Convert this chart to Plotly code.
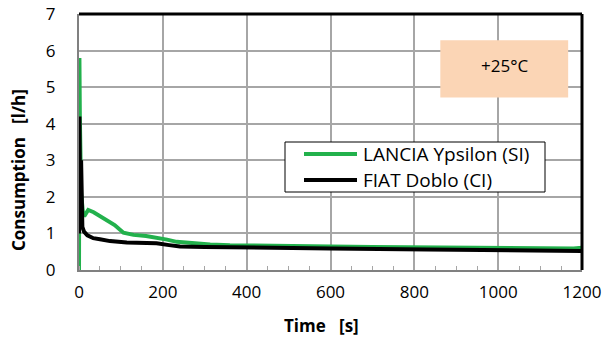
import plotly.graph_objects as go

# Data
time_lancia = [0, 1, 2, 5, 8, 10, 14, 22, 35, 50, 70, 85, 106, 130, 160, 185, 210, 233, 260, 313, 360, 432, 500, 600, 700, 800, 900, 1000, 1100, 1180, 1200]
cons_lancia = [0, 5.8, 4.2, 2.1, 1.55, 1.5, 1.5, 1.64, 1.58, 1.48, 1.35, 1.23, 1.02, 0.96, 0.93, 0.89, 0.83, 0.77, 0.74, 0.70, 0.68, 0.66, 0.65, 0.64, 0.63, 0.62, 0.61, 0.60, 0.59, 0.59, 0.61]

time_fiat = [0, 1, 3, 5, 8, 12, 20, 34, 50, 74, 114, 150, 185, 215, 241, 300, 432, 600, 830, 1000, 1200]
cons_fiat = [1.0, 4.2, 1.3, 3.0, 1.18, 1.05, 0.95, 0.87, 0.84, 0.79, 0.75, 0.74, 0.73, 0.68, 0.64, 0.63, 0.62, 0.59, 0.56, 0.54, 0.52]

series_names = ["LANCIA Ypsilon (SI)", "FIAT Doblo (CI)"]
series_colors = ["#22B14C", "#000000"]
x_ticks = [0, 200, 400, 600, 800, 1000, 1200]
y_ticks = [0, 1, 2, 3, 4, 5, 6, 7]
temp_label = "+25°C"
x_title = "Time\u00a0\u00a0\u00a0[s]"
y_title = "Consumption\u00a0\u00a0\u00a0[l/h]"

FONT = "Open Sans"
W, H = 605, 344
ML, MR, MT, MB = 79, 23, 14, 74
PW, PH = W - ML - MR, H - MT - MB


def px_x(p):
    return (p - ML) / PW


def px_y(p):
    return (H - MB - p) / PH


fig = go.Figure()
for name, color, xs, ys in [(series_names[0], series_colors[0], time_lancia, cons_lancia),
                            (series_names[1], series_colors[1], time_fiat, cons_fiat)]:
    fig.add_trace(go.Scatter(x=xs, y=ys, mode="lines", name=name,
                             line=dict(color=color, width=4), showlegend=False))

fig.update_layout(
    width=W, height=H,
    margin=dict(l=ML, r=MR, t=MT, b=MB, autoexpand=False),
    paper_bgcolor="white", plot_bgcolor="white",
    font=dict(family=FONT, color="black", size=16),
    showlegend=False,
)
fig.update_xaxes(range=[0, 1200], tickvals=x_ticks, ticktext=[str(v) for v in x_ticks],
                 showgrid=True, gridcolor="#A6A6A6", gridwidth=1.5,
                 showline=True, linecolor="#808080", linewidth=2,
                 ticks="", zeroline=False, automargin=False,
                 ticklabelstandoff=6,
                 minor=dict(dtick=50, ticks="inside", ticklen=4, tickcolor="#A6A6A6", showgrid=False),
                 tickfont=dict(size=17))
fig.update_yaxes(range=[0, 7], tickvals=y_ticks, ticktext=[str(v) for v in y_ticks],
                 showgrid=True, gridcolor="#A6A6A6", gridwidth=1.5,
                 showline=True, linecolor="#808080", linewidth=2,
                 ticks="", zeroline=False, automargin=False,
                 ticklabelstandoff=18,
                 tickfont=dict(size=17))

# axis titles
fig.add_annotation(x=px_x(321), y=px_y(325), xref="paper", yref="paper",
                   text="<b>" + x_title + "</b>", showarrow=False,
                   font=dict(size=17, family=FONT), xanchor="center", yanchor="middle")
fig.add_annotation(x=px_x(18), y=px_y(170), xref="paper", yref="paper",
                   text="<b>" + y_title + "</b>", showarrow=False, textangle=-90,
                   font=dict(size=17, family=FONT), xanchor="center", yanchor="middle")

# top and right black borders
fig.add_shape(type="line", xref="paper", yref="paper", x0=0, x1=1, y0=1, y1=1,
              line=dict(color="black", width=3))
fig.add_shape(type="line", xref="paper", yref="paper", x0=1, x1=1, y0=0, y1=1,
              line=dict(color="black", width=3))

# temperature box
fig.add_shape(type="rect", xref="x", yref="y", x0=862, x1=1167, y0=4.72, y1=6.28,
              fillcolor="#FBD5B5", line=dict(width=0), layer="above")
fig.add_annotation(x=(862 + 1167) / 2, y=5.6, xref="x", yref="y", text=temp_label,
                   showarrow=False, font=dict(size=17, family=FONT))

# custom legend
fig.add_shape(type="rect", xref="paper", yref="paper",
              x0=px_x(285), x1=px_x(545), y0=px_y(192), y1=px_y(142),
              fillcolor="white", line=dict(color="black", width=1), layer="above")
for i, (name, color) in enumerate(zip(series_names, series_colors)):
    yy = 154 + 26 * i
    fig.add_shape(type="line", xref="paper", yref="paper",
                  x0=px_x(304), x1=px_x(357), y0=px_y(yy), y1=px_y(yy),
                  line=dict(color=color, width=4), layer="above")
    fig.add_annotation(x=px_x(361), y=px_y(yy), xref="paper", yref="paper",
                       text=name, showarrow=False, xanchor="left", yanchor="middle",
                       font=dict(size=19, family=FONT))

fig.write_html("out.html")
